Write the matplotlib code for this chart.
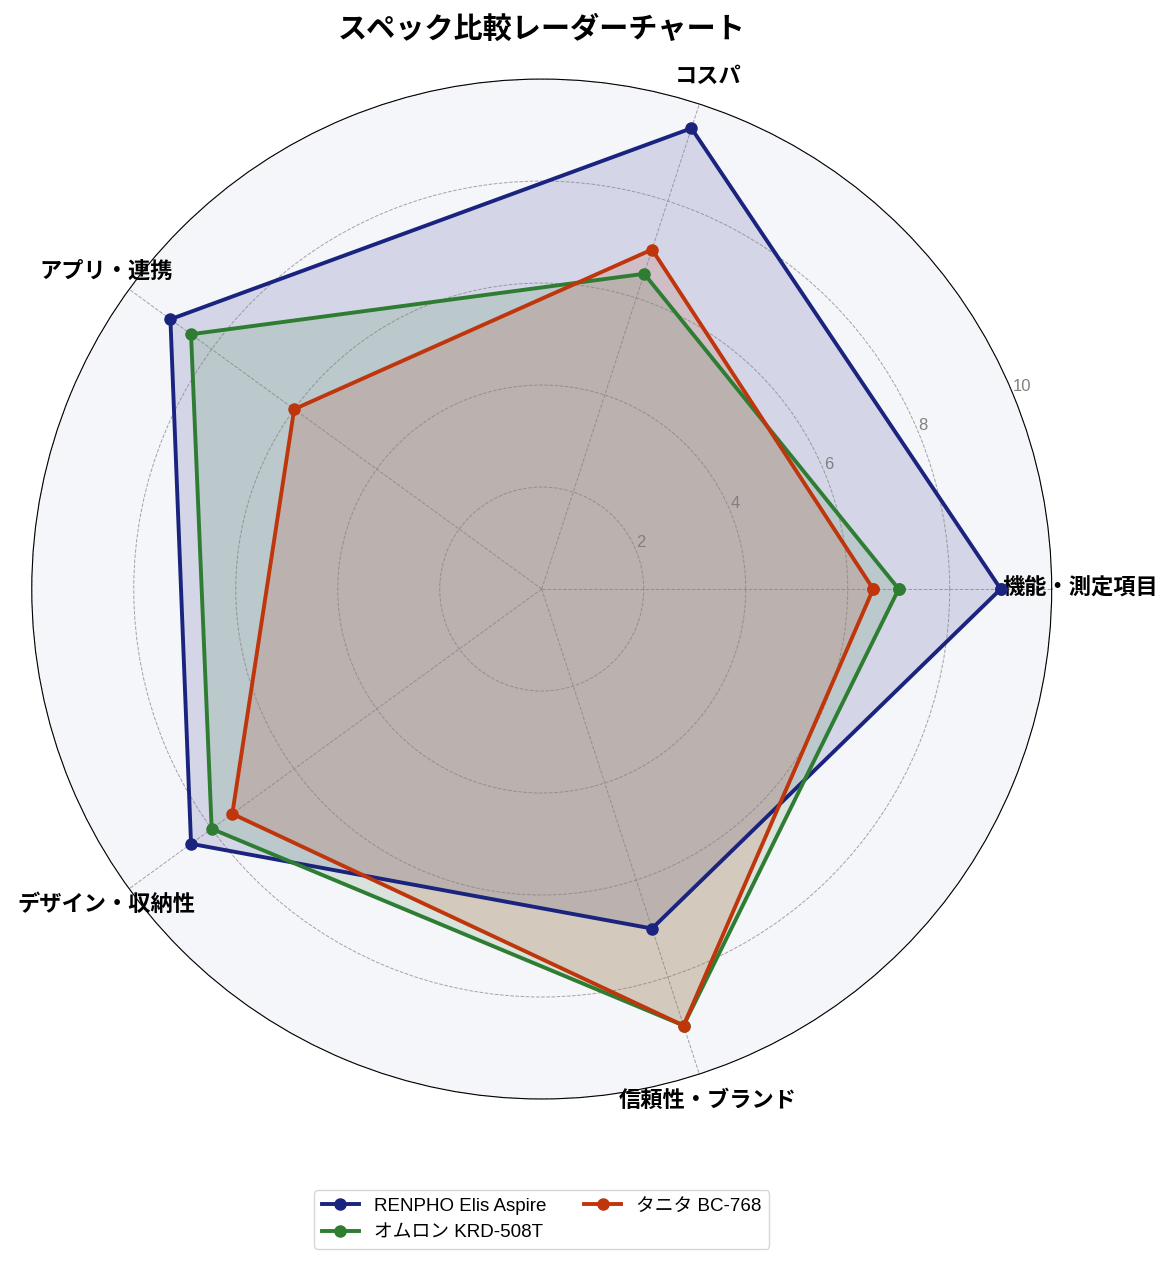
import numpy as np
import matplotlib.pyplot as plt

plt.rcParams['font.family'] = ['Liberation Sans', 'Noto Sans CJK JP', 'DejaVu Sans']

categories = ['機能・測定項目', 'コスパ', 'アプリ・連携', 'デザイン・収納性', '信頼性・ブランド']
renpho = [9.0, 9.5, 9.0, 8.5, 7.0]
omron = [7.0, 6.5, 8.5, 8.0, 9.0]
tanita = [6.5, 7.0, 6.0, 7.5, 9.0]
names = ['RENPHO Elis Aspire', 'オムロン KRD-508T', 'タニタ BC-768']
colors = ['#1a237e', '#2e7d32', '#bf360c']

angles = np.linspace(0, 2 * np.pi, len(categories), endpoint=False)
angles_c = np.concatenate([angles, angles[:1]])

fig = plt.figure(figsize=(11.76, 12.67), dpi=100)
ax = fig.add_axes([0.027, 0.1326, 0.8673, 0.805], projection='polar')
ax.set_facecolor('#f5f6fa')

for vals, name, c in zip([renpho, omron, tanita], names, colors):
    v = np.concatenate([vals, vals[:1]])
    ax.plot(angles_c, v, 'o-', color=c, linewidth=2.8, markersize=8, label=name)
    ax.fill(angles_c, v, color=c, alpha=0.15)

ax.set_ylim(0, 10)
ax.set_yticks([2, 4, 6, 8, 10])
ax.set_yticklabels(['2', '4', '6', '8', '10'], color='gray', fontsize=12)
ax.set_rlabel_position(22.5)
ax.set_xticks(angles)
ax.set_xticklabels(categories, fontsize=16, fontweight='bold')
ax.tick_params(axis='x', pad=10)
ax.grid(color='gray', linestyle='--', linewidth=0.7, alpha=0.7)
ax.spines['polar'].set_color('black')

ax.set_title('スペック比較レーダーチャート', fontsize=21, fontweight='bold', pad=30)
ax.legend(loc='upper center', bbox_to_anchor=(0.5, -0.08), ncol=2, fontsize=13.5)

fig.savefig('out.png', dpi=100)
